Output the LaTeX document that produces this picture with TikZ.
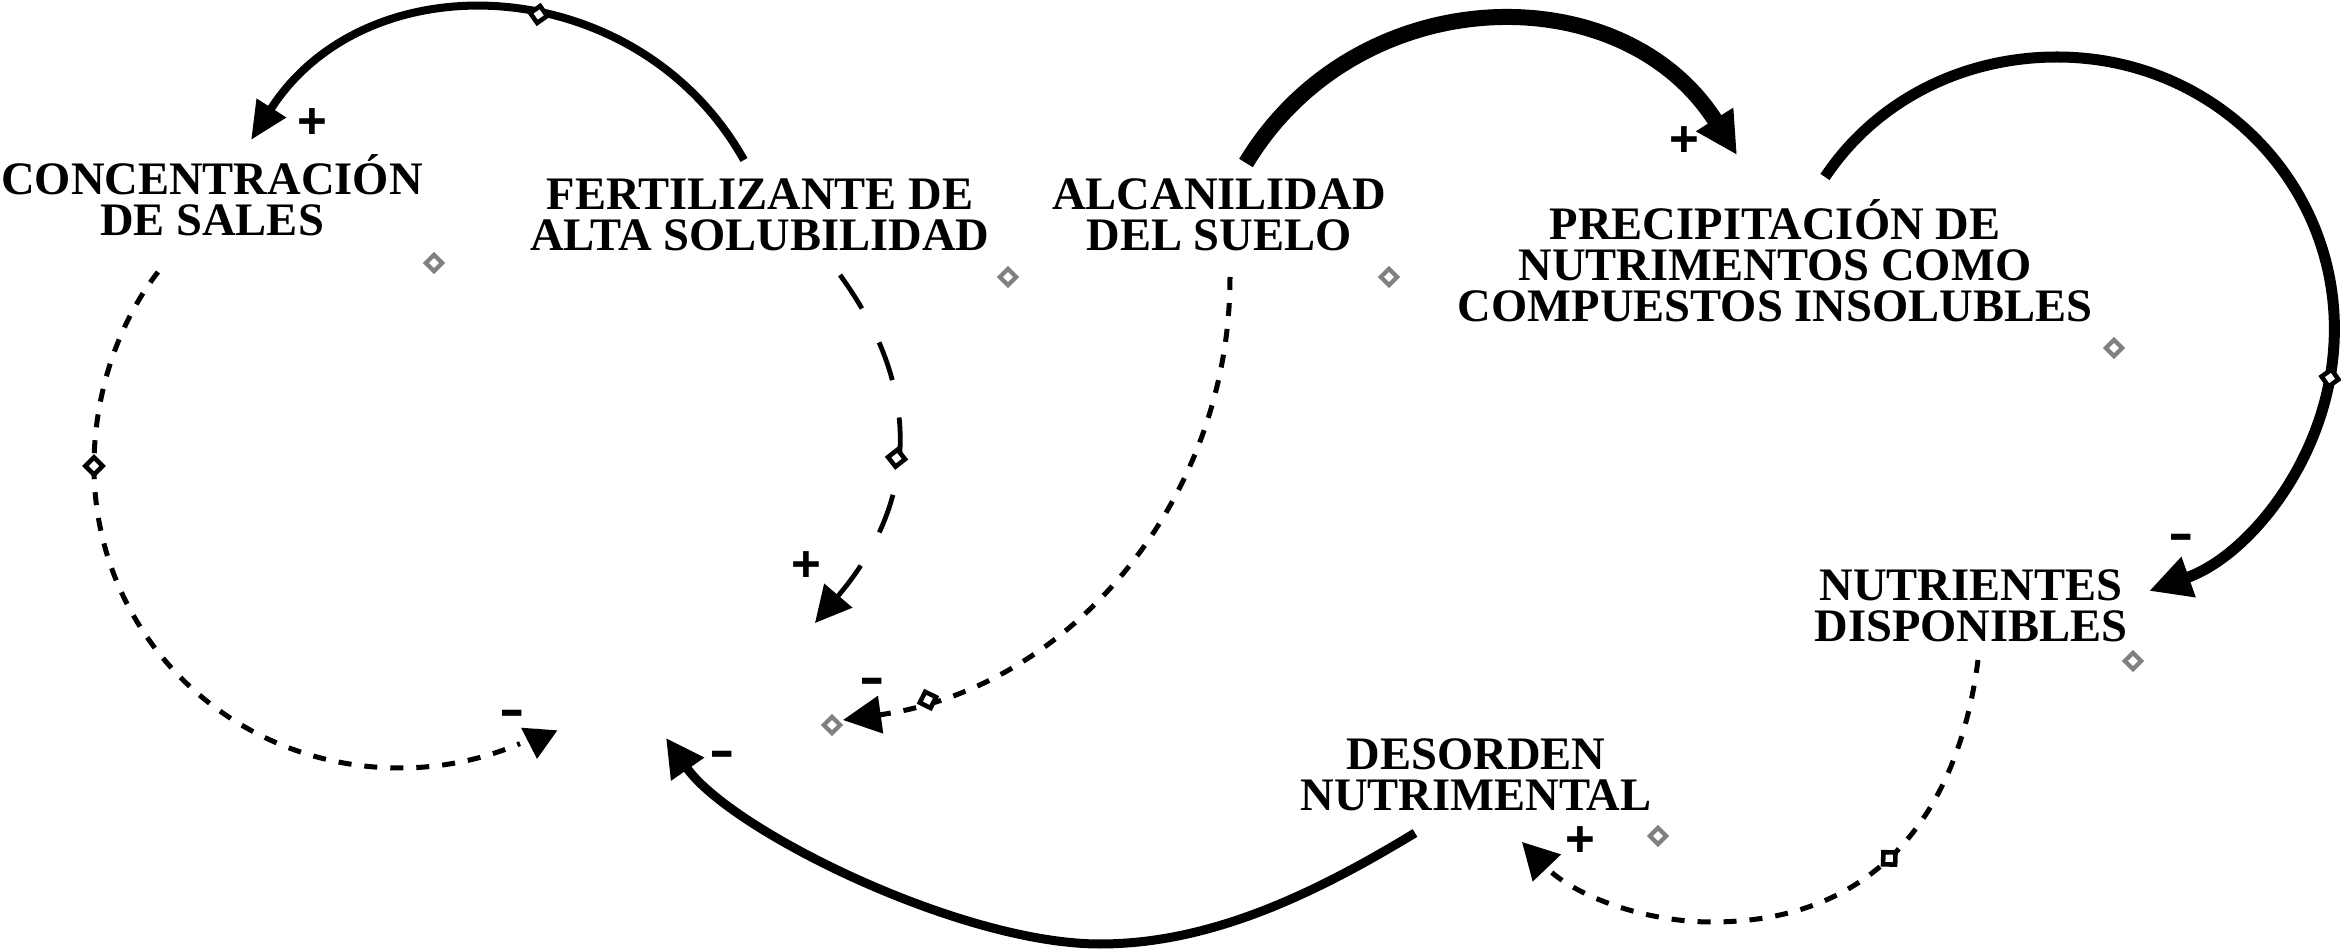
\documentclass[tikz,border=0pt]{standalone}
\usepackage{fontspec}
\usepackage{graphicx}
\setmainfont{Liberation Serif}
\newfontfamily\polfont{Liberation Sans}
\usetikzlibrary{arrows.meta,shapes.geometric}
\newcommand\cldvarfont{\fontsize{13.24pt}{11.67pt}\selectfont\bfseries\lineskiplimit=-100pt\lineskip=0pt}
\newcommand\cldpolfont{\polfont\fontsize{14.5pt}{15pt}\selectfont\bfseries}
\begin{document}
\begin{tikzpicture}[x=0.01cm,y=-0.01cm,
  var/.style={anchor=south, inner sep=0pt, align=center, font=\cldvarfont},
  pol/.style={inner sep=0pt, font=\cldpolfont},
  conn/.style={draw=black, line cap=butt},
  dotc/.style={conn, line width=0.5mm, dash pattern=on 1.3mm off 1.3mm},
  longd/.style={conn, line width=0.48mm, dash pattern=on 4mm off 3.8mm},
  hdl/.style={shape=diamond, draw=black, fill=white, solid, line width=1.3pt, inner sep=0pt, minimum size=1.9mm, sloped},
  ghdl/.style={shape=diamond, draw=gray, fill=white, solid, line width=1.2pt, inner sep=0pt, minimum size=1.8mm}
]
\fill[white] (0,0) rectangle (2341,952);
\useasboundingbox (0,0) rectangle (2341,952);

% variables
\node[var] (conc) at (212,249) {CONCENTRACIÓN\\DE SALES\strut};
\node[var] (fert) at (760,264) {FERTILIZANTE DE\\ALTA SOLUBILIDAD\strut};
\node[var] (alca) at (1219,264) {ALCANILIDAD\\DEL SUELO\strut};
\node[var] (prec) at (1775,335) {PRECIPITACIÓN DE\\NUTRIMENTOS COMO\\COMPUESTOS INSOLUBLES\strut};
\node[var] (nutr) at (1971,655) {NUTRIENTES\\DISPONIBLES\strut};
\node[var] (deso) at (1476,824) {DESORDEN\\NUTRIMENTAL\strut};

% grey handles of the variables
\node[ghdl] (conc-h) at (434,263) {};
\node[ghdl] (fert-h) at (1008,277) {};
\node[ghdl] (alca-h) at (1389,277) {};
\node[ghdl] (prec-h) at (2114,348) {};
\node[ghdl] (nutr-h) at (2133,661) {};
\node[ghdl] (deso-h) at (1658,836) {};
\node[ghdl] (hid-h) at (832,725) {};

% connector end points
\coordinate (fert-a) at (744,160);
\coordinate (conc-in) at (251,140);
\coordinate (fert-b) at (840,275);
\coordinate (hid-fert) at (815,623);
\coordinate (conc-b) at (158,272);
\coordinate (hid-conc) at (537,759);
\coordinate (alca-b) at (1230,277);
\coordinate (hid-alca) at (843,720);
\coordinate (deso-a) at (1415,833);
\coordinate (hid-deso) at (666,738);
\coordinate (alca-a) at (1246,163);
\coordinate (prec-in) at (1737,155);
\coordinate (prec-a) at (1825,177);
\coordinate (nutr-in) at (2149,591);
\coordinate (nutr-a) at (1978,660);
\coordinate (deso-in) at (1522,842);

% FERTILIZANTE -> CONCENTRACION
\draw[conn, line width=0.8mm, -{Triangle[length=3.8mm,width=3.3mm]}]
  (fert-a) .. controls (638,-29) and (368,-43) .. (conc-in) node[hdl, pos=0.435] (hA) {};
% FERTILIZANTE -> hidden
\draw[longd, -{Triangle[length=3.6mm,width=3.6mm]}]
  (fert-b) .. controls (928,396) and (913,508) .. (hid-fert) node[hdl, pos=0.52] (hB) {};
% CONCENTRACION -> hidden
\draw[dotc, -{Triangle[length=3.0mm,width=3.5mm]}]
  (conc-b) .. controls (115.9,326) and (94,398) .. (94,466) node[hdl, pos=1] (hC) {}
  .. controls (94,635) and (230.5,768) .. (400,768)
  .. controls (441.2,768) and (482,759.7) .. (520,743.6)
  (539.2,729) -- (hid-conc);
% ALCANILIDAD -> hidden
\draw[dotc, -{Triangle[length=3.8mm,width=3.7mm]}]
  (alca-b) .. controls (1230,501) and (1070,688) .. (hid-alca) node[hdl, pos=0.87] (hD) {};
% DESORDEN -> hidden
\draw[conn, line width=0.9mm, -{Triangle[length=3.8mm,width=3.8mm]}]
  (deso-a) .. controls (1318.4,891.5) and (1213,944) .. (1100,944)
  .. controls (960,944) and (730,830) .. (hid-deso);
% ALCANILIDAD -> PRECIPITACION
\draw[conn, line width=1.6mm, -{Triangle[length=4.2mm,width=4.1mm]}]
  (alca-a) .. controls (1357,-21) and (1622,-27) .. (prec-in);
% PRECIPITACION -> NUTRIENTES
\draw[conn, line width=1.1mm, -{Triangle[length=4.2mm,width=4.0mm]}]
  (prec-a) .. controls (1876.3,100) and (1963.5,57) .. (2056.9,57)
  .. controls (2229.6,57) and (2360.3,208) .. (2330,378) node[hdl, pos=1] (hG) {}
  .. controls (2312.4,476.5) and (2243.3,557.8) .. (nutr-in);
% NUTRIENTES -> DESORDEN
\draw[dotc, -{Triangle[length=3.6mm,width=3.8mm]}]
  (nutr-a) .. controls (1957.7,818.4) and (1872,922) .. (1712,922) node[hdl, pos=0.53] (hH) {}
  .. controls (1640.5,922) and (1571.3,893.5) .. (deso-in);

% polarities
\node[pol] (pA) at (312,124) {+};
\node[pol] (pB) at (806,567) {+};
\node[pol] (pC) at (512,718) {\scalebox{1.5}[1]{-}};
\node[pol] (pD) at (872,686) {\scalebox{1.5}[1]{-}};
\node[pol] (pE) at (722,759) {\scalebox{1.5}[1]{-}};
\node[pol] (pF) at (1684,142) {+};
\node[pol] (pG) at (2181,542) {\scalebox{1.5}[1]{-}};
\node[pol] (pH) at (1580,842) {+};
\end{tikzpicture}
\end{document}
